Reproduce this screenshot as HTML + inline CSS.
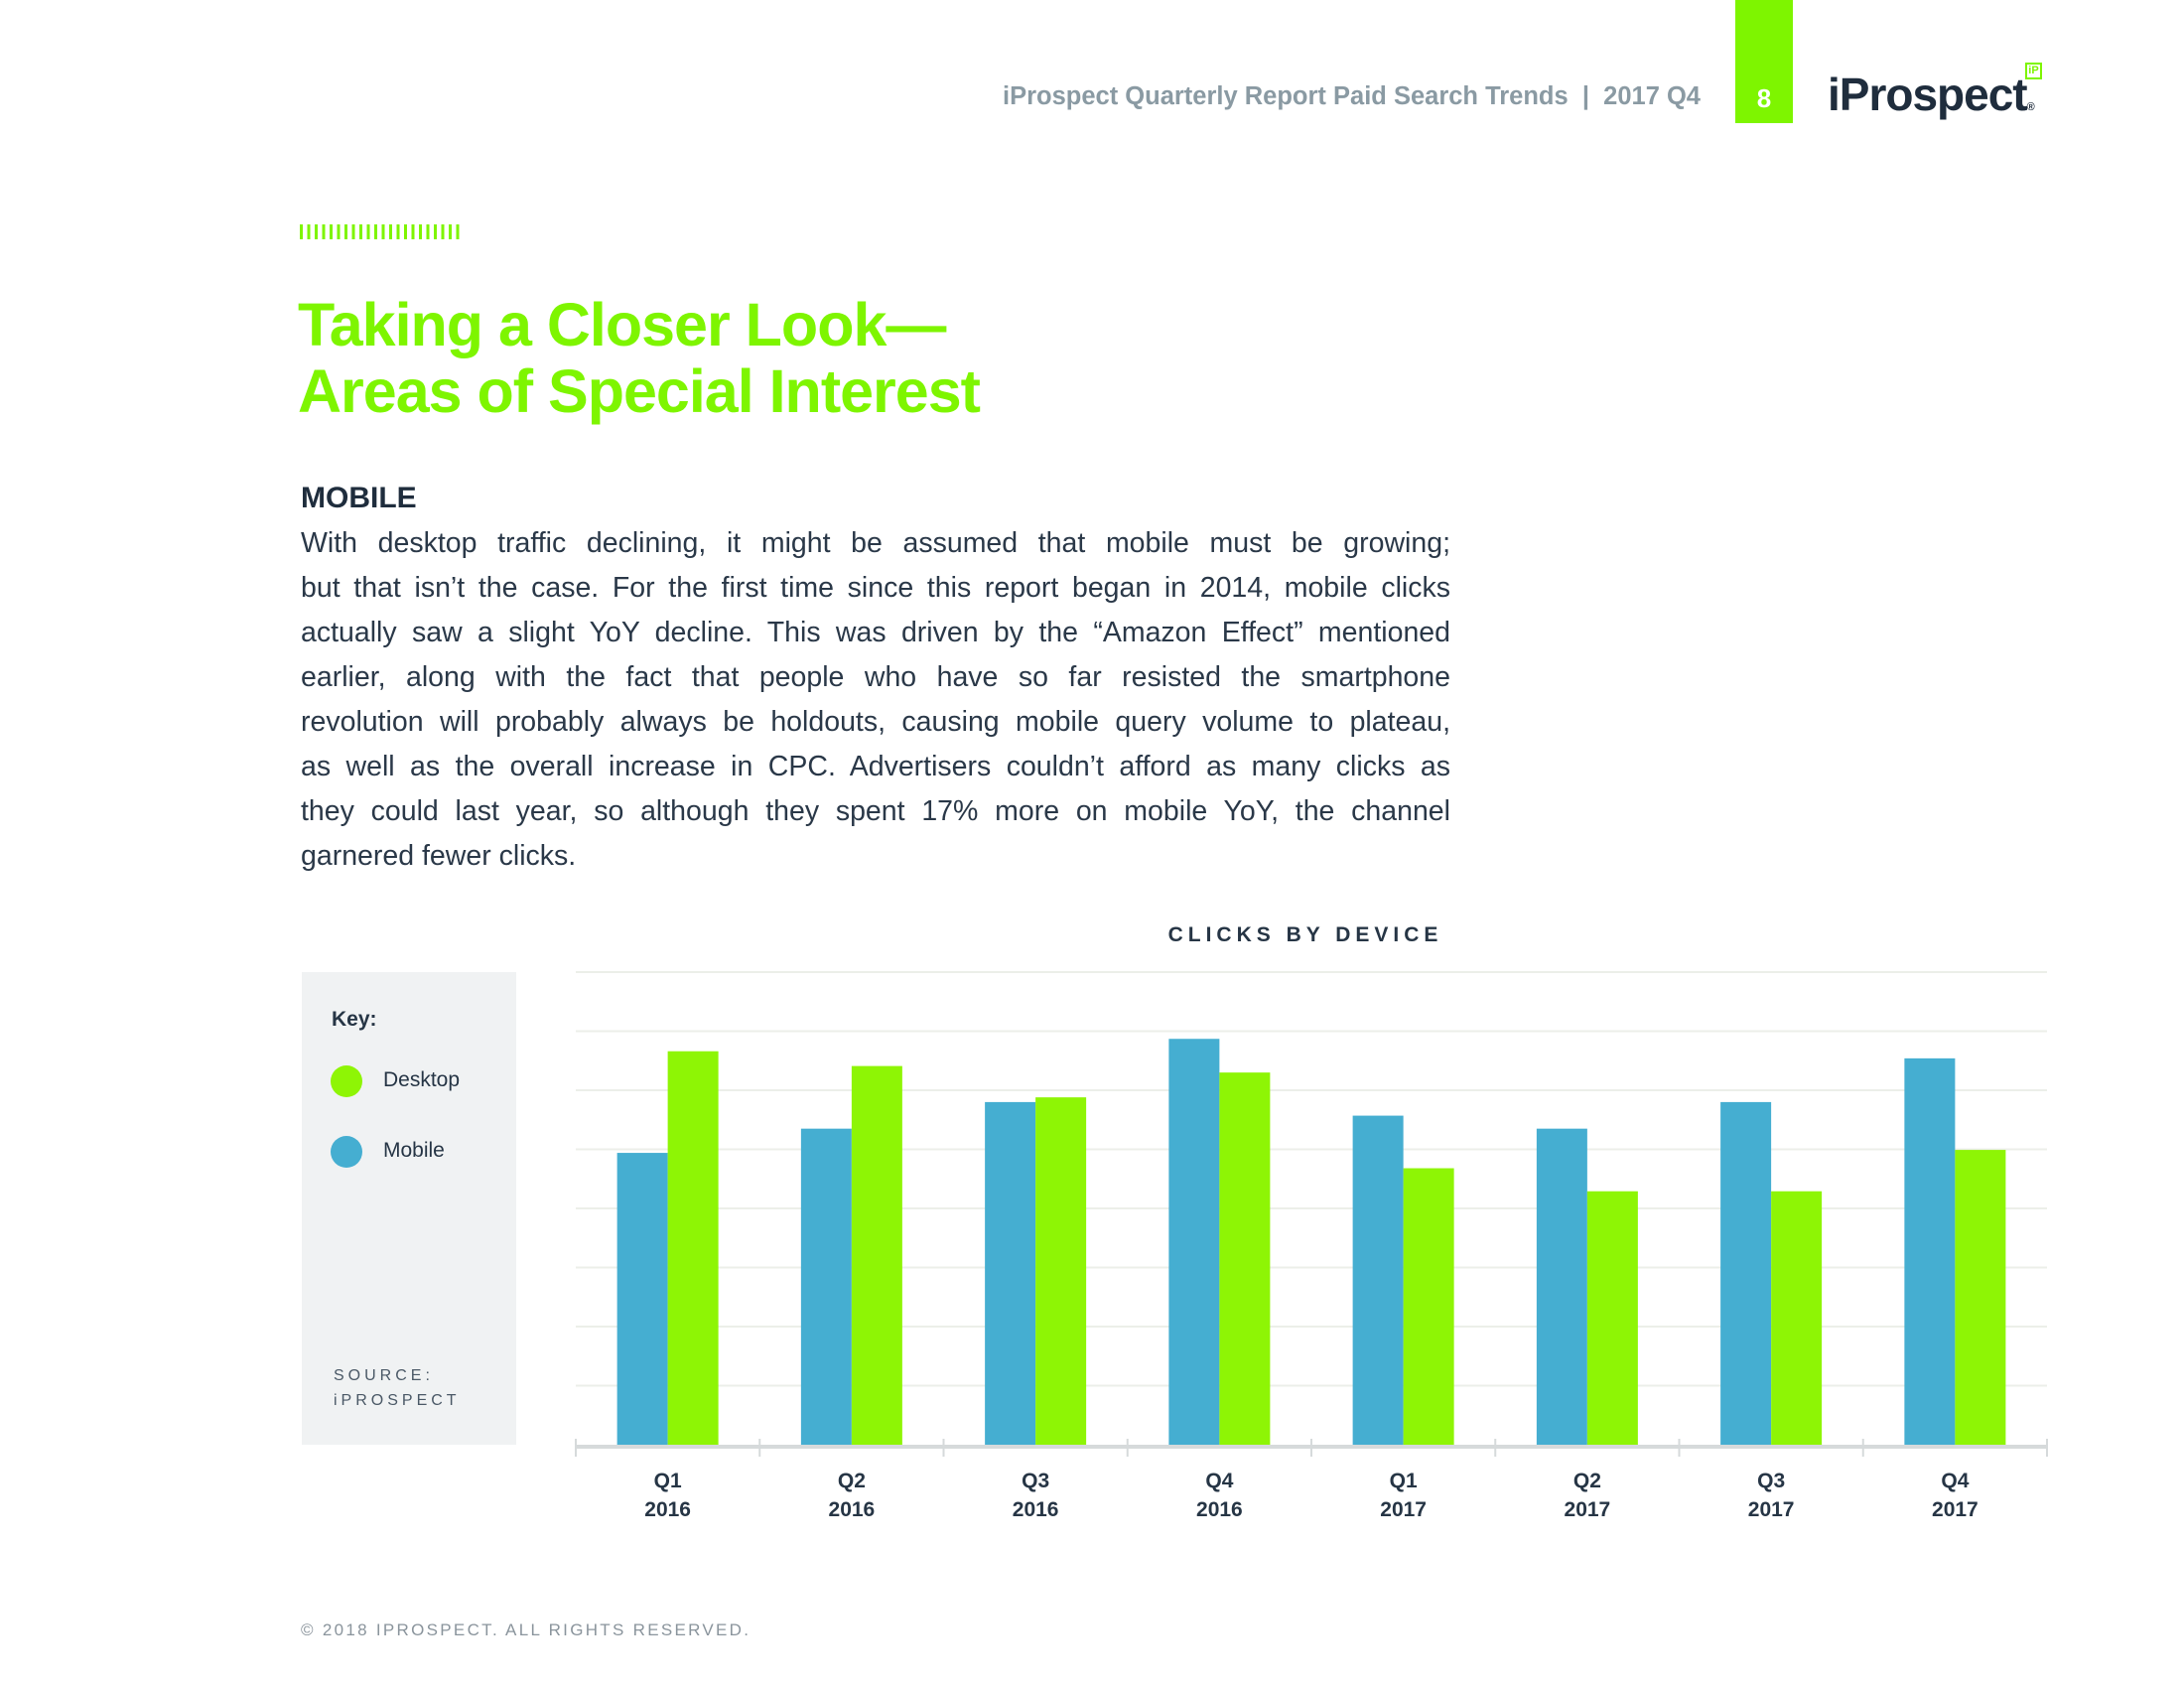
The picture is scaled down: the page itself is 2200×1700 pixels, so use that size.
<!DOCTYPE html>
<html><head><meta charset="utf-8"><style>
body{margin:0;width:2200px;height:1700px;background:#fff;position:relative;overflow:hidden;font-family:"Liberation Sans",sans-serif;color:#263545}
.abs{position:absolute}
.line{position:absolute;left:303px;width:1158px;font-size:28.5px;text-align:justify;text-align-last:justify;white-space:nowrap;overflow:visible;line-height:34px;color:#2a3848}
.line.last{text-align-last:left}
</style></head><body>
<div class="abs" style="left:900px;top:83px;width:813px;text-align:right;font-size:25.5px;font-weight:bold;color:#8a9aa3;">iProspect Quarterly Report Paid Search Trends&nbsp; |&nbsp; 2017 Q4</div>
<div class="abs" style="left:1748px;top:0;width:58px;height:124px;background:#7ef500;color:#fff;font-size:26px;font-weight:bold;text-align:center;line-height:26px;"><span style="position:absolute;left:0;right:0;top:86px;">8</span></div>
<div class="abs" style="left:1841px;top:68px;font-size:46px;font-weight:bold;color:#1f2d3d;letter-spacing:-1px;">iProspect<span style="font-size:11px">®</span></div>
<div class="abs" style="left:2040px;top:63px;width:17px;height:17px;border:2px solid #7ef500;box-sizing:border-box;font-size:11px;color:#7ef500;line-height:13px;text-align:center;font-weight:bold">iP</div>
<svg class="abs" style="left:300px;top:226px" width="170" height="16">
<g fill="#7ef500" id="tk"></g></svg>
<div class="abs" style="left:300px;top:294px;font-size:61px;font-weight:bold;color:#7ef500;line-height:67px;letter-spacing:-1px">Taking a Closer Look—<br>Areas of Special Interest</div>
<div class="abs" style="left:303px;top:485px;font-size:30px;font-weight:bold;color:#1f2d3d;">MOBILE</div>
<div>
<div class="line" style="top:530px">With desktop traffic declining, it might be assumed that mobile must be growing;</div>
<div class="line" style="top:575px">but that isn’t the case. For the first time since this report began in 2014, mobile clicks</div>
<div class="line" style="top:620px">actually saw a slight YoY decline. This was driven by the “Amazon Effect” mentioned</div>
<div class="line" style="top:665px">earlier, along with the fact that people who have so far resisted the smartphone</div>
<div class="line" style="top:710px">revolution will probably always be holdouts, causing mobile query volume to plateau,</div>
<div class="line" style="top:755px">as well as the overall increase in CPC. Advertisers couldn’t afford as many clicks as</div>
<div class="line" style="top:800px">they could last year, so although they spent 17% more on mobile YoY, the channel</div>
<div class="line last" style="top:845px">garnered fewer clicks.</div>
</div>
<div class="abs" style="left:1095px;width:440px;top:930px;text-align:center;font-size:21px;font-weight:bold;letter-spacing:5px;color:#263545">CLICKS BY DEVICE</div>
<div class="abs" style="left:304px;top:979px;width:216px;height:476px;background:#f0f2f3">
<div class="abs" style="left:30px;top:36px;font-size:21px;font-weight:bold;color:#263545">Key:</div>
<div class="abs" style="left:29px;top:94px;width:32px;height:32px;border-radius:50%;background:#8ef505"></div>
<div class="abs" style="left:82px;top:97px;font-size:21px;color:#263545">Desktop</div>
<div class="abs" style="left:29px;top:165px;width:32px;height:32px;border-radius:50%;background:#45aed1"></div>
<div class="abs" style="left:82px;top:168px;font-size:21px;color:#263545">Mobile</div>
<div class="abs" style="left:32px;top:394px;font-size:16px;letter-spacing:4px;color:#4a5866;line-height:25px">SOURCE:<br>iPROSPECT</div>
</div>
<svg class="abs" style="left:0;top:0" width="2200" height="1700" id="chart"></svg>
<div class="abs" style="left:303px;top:1632px;font-size:17px;letter-spacing:2.3px;color:#8a949c">© 2018 IPROSPECT. ALL RIGHTS RESERVED.</div>
<script>
const categories=["Q1|2016","Q2|2016","Q3|2016","Q4|2016","Q1|2017","Q2|2017","Q3|2017","Q4|2017"];
const mobileValues=[4.94,5.35,5.80,6.87,5.57,5.35,5.80,6.54];
const desktopValues=[6.66,6.41,5.88,6.30,4.68,4.29,4.29,4.99];
const gridTicks=[1,2,3,4,5,6,7,8];
const NS="http://www.w3.org/2000/svg";
const svg=document.getElementById('chart');
const X0=580,X1=2062,Y0=1455,YT=979,YMAX=8;
const bw=(X1-X0)/categories.length;
function y(v){return Y0-(v/YMAX)*(Y0-YT);}
function xc(i){return X0+bw*(i+0.5);}
function mk(t,a){const e=document.createElementNS(NS,t);for(const k in a)e.setAttribute(k,a[k]);svg.appendChild(e);return e;}
gridTicks.forEach(t=>{const l=mk('line',{x1:X0,x2:X1,y1:y(t),y2:y(t),stroke:'#ecefe9','stroke-width':2});

});
const barW=51;
categories.forEach((c,i)=>{
 const cx=xc(i);
 const m=mk('rect',{x:cx-barW,y:y(mobileValues[i]),width:barW,height:Y0-y(mobileValues[i]),fill:'#45aed1'});
 
 
 const d=mk('rect',{x:cx,y:y(desktopValues[i]),width:barW,height:Y0-y(desktopValues[i]),fill:'#8ef505'});
 
 
 const parts=c.split('|');
 const t=mk('text',{x:cx,y:1498,'text-anchor':'middle','font-size':21,'font-weight':'bold',fill:'#263545','font-family':'Liberation Sans'});
 t.textContent=parts[0];
 
 
 const t2=mk('text',{x:cx,y:1527,'text-anchor':'middle','font-size':21,'font-weight':'bold',fill:'#263545','font-family':'Liberation Sans'});
 t2.textContent=parts[1];
 
 
});
const ax=mk('line',{x1:X0,x2:X1,y1:Y0+2,y2:Y0+2,stroke:'#d6dadb','stroke-width':4});


for(let i=0;i<=categories.length;i++){const tk=mk('line',{x1:X0+bw*i,x2:X0+bw*i,y1:Y0-6,y2:Y0+12,stroke:'#d6dadb','stroke-width':2});

}
const g=document.getElementById('tk');
for(let i=0;i<22;i++){const r=document.createElementNS(NS,'rect');r.setAttribute('x',2+i*7.5);r.setAttribute('y',0);r.setAttribute('width',3);r.setAttribute('height',15);g.appendChild(r);}
</script>
</body></html>
